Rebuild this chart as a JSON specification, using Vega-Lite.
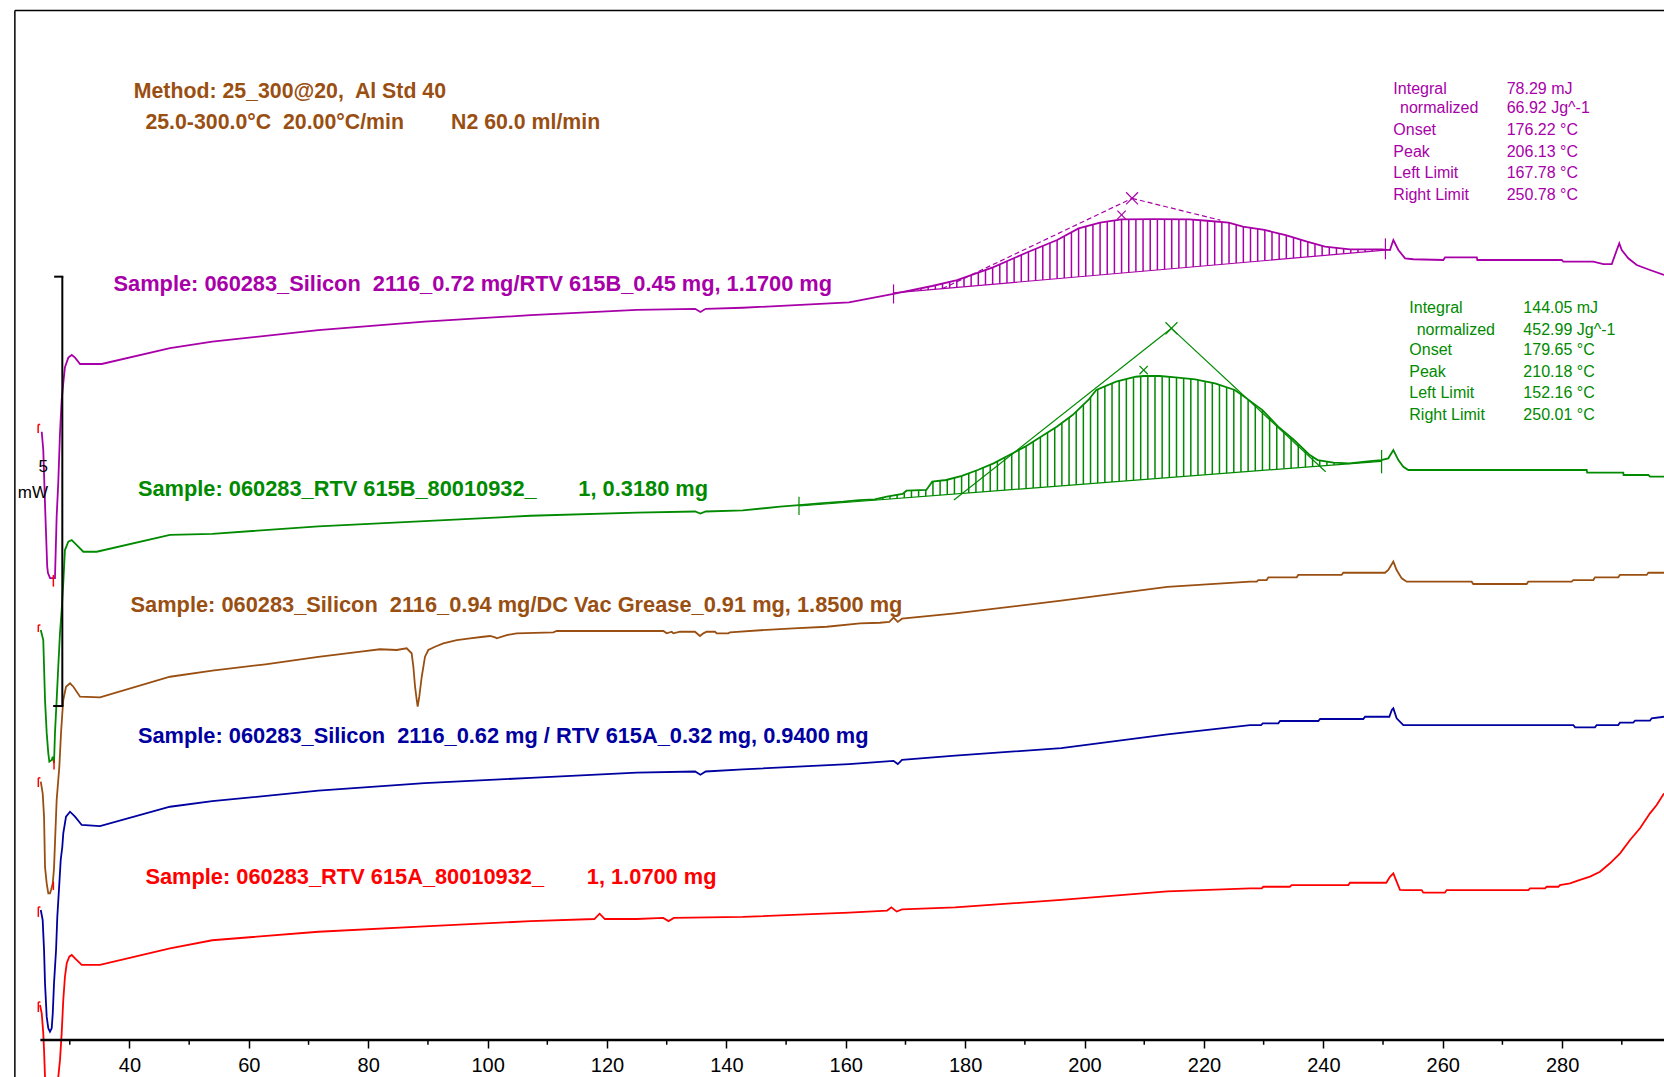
{
"$schema": "https://vega.github.io/schema/vega-lite/v6.json",
"width": 1664, "height": 1040,
"autosize": {"type": "none"},
"padding": {"left": 0, "top": 0, "right": 0, "bottom": 37},
"background": "white",
"config": {"view": {"stroke": null}, "font": "Liberation Sans"},
"datasets": {
"traces": [
{"s":"P","T":25.30,"v":57.32},{"s":"P","T":25.56,"v":55.6},{"s":"P","T":25.88,"v":50.0},{"s":"P","T":26.22,"v":44.6},{"s":"P","T":26.35,"v":44.0},{"s":"P","T":26.70,"v":43.53},{"s":"P","T":27.52,"v":43.53},{"s":"P","T":27.80,"v":49.3},{"s":"P","T":28.07,"v":52.5},{"s":"P","T":28.36,"v":57.2},{"s":"P","T":28.64,"v":60.3},{"s":"P","T":28.91,"v":61.9},{"s":"P","T":29.19,"v":63.4},{"s":"P","T":29.76,"v":64.3},{"s":"P","T":30.33,"v":64.55},{"s":"P","T":30.88,"v":64.3},{"s":"P","T":31.72,"v":63.7},{"s":"P","T":35.34,"v":63.7},{"s":"P","T":46.79,"v":65.2},{"s":"P","T":53.87,"v":65.8},{"s":"P","T":71.64,"v":66.9},{"s":"P","T":89.42,"v":67.7},{"s":"P","T":107.2,"v":68.3},{"s":"P","T":124.98,"v":68.8},{"s":"P","T":134.76,"v":68.9},{"s":"P","T":135.64,"v":68.6},{"s":"P","T":136.53,"v":68.9},{"s":"P","T":142.76,"v":69.0},{"s":"P","T":160.53,"v":69.5},{"s":"P","T":168.0,"v":70.3},{"s":"P","T":174.47,"v":71.05},{"s":"P","T":178.65,"v":71.61},{"s":"P","T":184.64,"v":72.81},{"s":"P","T":190.63,"v":74.28},{"s":"P","T":195.41,"v":75.38},{"s":"P","T":199.0,"v":76.48},{"s":"P","T":202.6,"v":77.02},{"s":"P","T":206.19,"v":77.33},{"s":"P","T":211.57,"v":77.36},{"s":"P","T":217.55,"v":77.33},{"s":"P","T":220.53,"v":77.2},{"s":"P","T":224.12,"v":77.02},{"s":"P","T":226.52,"v":76.64},{"s":"P","T":230.12,"v":76.33},{"s":"P","T":233.69,"v":75.85},{"s":"P","T":237.28,"v":75.23},{"s":"P","T":240.28,"v":74.76},{"s":"P","T":244.46,"v":74.5},{"s":"P","T":249.85,"v":74.5},{"s":"P","T":251.16,"v":74.44},{"s":"P","T":251.73,"v":75.38},{"s":"P","T":252.57,"v":74.44},{"s":"P","T":253.69,"v":73.66},{"s":"P","T":255.08,"v":73.57},{"s":"P","T":260.11,"v":73.5},{"s":"P","T":260.39,"v":73.75},{"s":"P","T":265.71,"v":73.75},{"s":"P","T":265.8,"v":73.5},{"s":"P","T":279.93,"v":73.5},{"s":"P","T":280.2,"v":73.34},{"s":"P","T":285.23,"v":73.34},{"s":"P","T":286.92,"v":73.12},{"s":"P","T":288.32,"v":73.12},{"s":"P","T":289.16,"v":74.44},{"s":"P","T":289.58,"v":75.07},{"s":"P","T":289.99,"v":74.44},{"s":"P","T":291.09,"v":73.66},{"s":"P","T":292.5,"v":73.03},{"s":"P","T":294.72,"v":72.56},{"s":"P","T":297.07,"v":72.09},
{"s":"G","T":25.14,"v":38.63},{"s":"G","T":25.56,"v":37.69},{"s":"G","T":25.69,"v":35.18},{"s":"G","T":25.85,"v":32.04},{"s":"G","T":26.13,"v":28.96},{"s":"G","T":26.40,"v":27.01},{"s":"G","T":26.58,"v":26.22},{"s":"G","T":26.97,"v":26.38},{"s":"G","T":27.15,"v":26.7},{"s":"G","T":27.36,"v":26.1},{"s":"G","T":27.52,"v":28.93},{"s":"G","T":27.80,"v":32.04},{"s":"G","T":28.07,"v":35.15},{"s":"G","T":28.36,"v":38.35},{"s":"G","T":28.64,"v":40.52},{"s":"G","T":28.91,"v":43.06},{"s":"G","T":29.19,"v":46.17},{"s":"G","T":29.76,"v":46.95},{"s":"G","T":30.33,"v":47.11},{"s":"G","T":30.88,"v":46.8},{"s":"G","T":32.27,"v":46.01},{"s":"G","T":34.51,"v":46.01},{"s":"G","T":46.79,"v":47.59},{"s":"G","T":53.87,"v":47.7},{"s":"G","T":71.64,"v":48.4},{"s":"G","T":89.42,"v":48.9},{"s":"G","T":107.2,"v":49.4},{"s":"G","T":124.98,"v":49.7},{"s":"G","T":134.76,"v":49.8},{"s":"G","T":135.64,"v":49.6},{"s":"G","T":136.53,"v":49.8},{"s":"G","T":142.76,"v":49.9},{"s":"G","T":148.98,"v":50.26},{"s":"G","T":152.16,"v":50.41},{"s":"G","T":155.61,"v":50.57},{"s":"G","T":159.57,"v":50.73},{"s":"G","T":162.22,"v":50.88},{"s":"G","T":164.87,"v":50.95},{"s":"G","T":166.86,"v":51.2},{"s":"G","T":169.51,"v":51.45},{"s":"G","T":170.17,"v":51.76},{"s":"G","T":173.49,"v":51.83},{"s":"G","T":174.49,"v":52.61},{"s":"G","T":176.8,"v":52.77},{"s":"G","T":179.45,"v":53.15},{"s":"G","T":182.1,"v":53.71},{"s":"G","T":184.75,"v":54.34},{"s":"G","T":187.4,"v":55.12},{"s":"G","T":190.04,"v":55.91},{"s":"G","T":192.69,"v":56.85},{"s":"G","T":195.34,"v":57.79},{"s":"G","T":197.99,"v":58.89},{"s":"G","T":200.64,"v":60.31},{"s":"G","T":201.97,"v":61.25},{"s":"G","T":205.28,"v":62.03},{"s":"G","T":208.59,"v":62.5},{"s":"G","T":209.92,"v":62.57},{"s":"G","T":212.57,"v":62.57},{"s":"G","T":215.22,"v":62.44},{"s":"G","T":218.52,"v":62.25},{"s":"G","T":221.85,"v":61.88},{"s":"G","T":225.16,"v":61.25},{"s":"G","T":227.15,"v":60.46},{"s":"G","T":229.8,"v":59.36},{"s":"G","T":232.44,"v":57.79},{"s":"G","T":235.09,"v":56.54},{"s":"G","T":237.74,"v":55.12},{"s":"G","T":239.06,"v":54.65},{"s":"G","T":241.71,"v":54.4},{"s":"G","T":244.36,"v":54.34},{"s":"G","T":247.02,"v":54.5},{"s":"G","T":249.67,"v":54.65},{"s":"G","T":250.88,"v":54.81},{"s":"G","T":251.73,"v":55.59},{"s":"G","T":252.57,"v":54.65},{"s":"G","T":253.40,"v":54.02},{"s":"G","T":254.24,"v":53.71},{"s":"G","T":284.12,"v":53.71},{"s":"G","T":284.2,"v":53.46},{"s":"G","T":290.25,"v":53.46},{"s":"G","T":290.3,"v":53.24},{"s":"G","T":294.45,"v":53.24},{"s":"G","T":294.72,"v":53.08},{"s":"G","T":297.07,"v":53.08},
{"s":"B","T":25.14,"v":24.34},{"s":"B","T":25.46,"v":23.25},{"s":"B","T":25.69,"v":21.04},{"s":"B","T":25.85,"v":16.31},{"s":"B","T":26.13,"v":14.76},{"s":"B","T":26.40,"v":13.82},{"s":"B","T":26.68,"v":13.82},{"s":"B","T":26.86,"v":14.13},{"s":"B","T":27.15,"v":14.76},{"s":"B","T":27.36,"v":16.2},{"s":"B","T":27.80,"v":22.61},{"s":"B","T":28.25,"v":25.75},{"s":"B","T":28.53,"v":28.9},{"s":"B","T":28.75,"v":30.78},{"s":"B","T":28.91,"v":32.04},{"s":"B","T":29.37,"v":33.29},{"s":"B","T":30.04,"v":33.61},{"s":"B","T":30.60,"v":33.29},{"s":"B","T":31.72,"v":32.35},{"s":"B","T":35.06,"v":32.29},{"s":"B","T":46.79,"v":34.23},{"s":"B","T":53.87,"v":34.8},{"s":"B","T":62.76,"v":35.4},{"s":"B","T":71.64,"v":36.1},{"s":"B","T":78.76,"v":36.6},{"s":"B","T":81.97,"v":36.82},{"s":"B","T":84.76,"v":36.75},{"s":"B","T":86.44,"v":36.91},{"s":"B","T":87.27,"v":36.44},{"s":"B","T":87.56,"v":35.17},{"s":"B","T":87.84,"v":33.29},{"s":"B","T":88.12,"v":32.04},{"s":"B","T":88.28,"v":31.41},{"s":"B","T":88.55,"v":32.35},{"s":"B","T":88.96,"v":34.23},{"s":"B","T":89.51,"v":36.12},{"s":"B","T":90.06,"v":36.75},{"s":"B","T":91.18,"v":37.06},{"s":"B","T":92.57,"v":37.38},{"s":"B","T":94.83,"v":37.69},{"s":"B","T":97.05,"v":37.85},{"s":"B","T":99.27,"v":38.0},{"s":"B","T":100.41,"v":38.07},{"s":"B","T":101.24,"v":37.95},{"s":"B","T":101.51,"v":37.85},{"s":"B","T":103.2,"v":38.16},{"s":"B","T":104.87,"v":38.32},{"s":"B","T":111.0,"v":38.42},{"s":"B","T":111.57,"v":38.54},{"s":"B","T":129.44,"v":38.54},{"s":"B","T":130.01,"v":38.32},{"s":"B","T":130.84,"v":38.47},{"s":"B","T":131.11,"v":38.32},{"s":"B","T":132.23,"v":38.47},{"s":"B","T":134.74,"v":38.47},{"s":"B","T":135.57,"v":38.07},{"s":"B","T":136.14,"v":38.32},{"s":"B","T":136.69,"v":38.47},{"s":"B","T":138.10,"v":38.47},{"s":"B","T":138.38,"v":38.32},{"s":"B","T":140.32,"v":38.32},{"s":"B","T":140.6,"v":38.42},{"s":"B","T":146.75,"v":38.65},{"s":"B","T":151.22,"v":38.79},{"s":"B","T":156.80,"v":38.94},{"s":"B","T":162.38,"v":39.26},{"s":"B","T":165.72,"v":39.32},{"s":"B","T":167.29,"v":39.4},{"s":"B","T":168.0,"v":39.8},{"s":"B","T":168.71,"v":39.4},{"s":"B","T":169.42,"v":39.7},{"s":"B","T":178.31,"v":40.2},{"s":"B","T":196.09,"v":41.4},{"s":"B","T":213.87,"v":42.7},{"s":"B","T":227.72,"v":43.19},{"s":"B","T":228.84,"v":43.19},{"s":"B","T":229.10,"v":43.34},{"s":"B","T":230.5,"v":43.34},{"s":"B","T":230.79,"v":43.6},{"s":"B","T":235.54,"v":43.6},{"s":"B","T":235.80,"v":43.82},{"s":"B","T":243.07,"v":43.82},{"s":"B","T":243.34,"v":44.03},{"s":"B","T":250.33,"v":44.03},{"s":"B","T":250.88,"v":44.29},{"s":"B","T":251.73,"v":45.08},{"s":"B","T":252.28,"v":44.29},{"s":"B","T":253.13,"v":43.5},{"s":"B","T":253.97,"v":43.19},{"s":"B","T":264.85,"v":43.19},{"s":"B","T":265.12,"v":42.97},{"s":"B","T":274.06,"v":42.97},{"s":"B","T":274.33,"v":43.19},{"s":"B","T":281.6,"v":43.19},{"s":"B","T":281.88,"v":43.34},{"s":"B","T":285.23,"v":43.34},{"s":"B","T":285.51,"v":43.6},{"s":"B","T":289.4,"v":43.6},{"s":"B","T":289.69,"v":43.82},{"s":"B","T":294.17,"v":43.82},{"s":"B","T":294.45,"v":44.03},{"s":"B","T":297.07,"v":44.03},
{"s":"U","T":25.14,"v":12.25},{"s":"U","T":25.46,"v":11.3},{"s":"U","T":25.56,"v":10.05},{"s":"U","T":25.69,"v":8.48},{"s":"U","T":25.85,"v":5.34},{"s":"U","T":26.13,"v":2.2},{"s":"U","T":26.40,"v":1.1},{"s":"U","T":26.68,"v":0.78},{"s":"U","T":26.97,"v":1.1},{"s":"U","T":27.15,"v":2.51},{"s":"U","T":27.36,"v":5.34},{"s":"U","T":27.70,"v":8.48},{"s":"U","T":27.91,"v":11.62},{"s":"U","T":28.25,"v":14.76},{"s":"U","T":28.48,"v":16.96},{"s":"U","T":28.75,"v":18.21},{"s":"U","T":28.91,"v":19.47},{"s":"U","T":29.37,"v":21.04},{"s":"U","T":30.04,"v":21.51},{"s":"U","T":30.88,"v":21.04},{"s":"U","T":32.0,"v":20.26},{"s":"U","T":35.06,"v":20.16},{"s":"U","T":46.79,"v":21.98},{"s":"U","T":53.87,"v":22.5},{"s":"U","T":71.64,"v":23.5},{"s":"U","T":89.42,"v":24.2},{"s":"U","T":107.2,"v":24.7},{"s":"U","T":124.98,"v":25.2},{"s":"U","T":134.76,"v":25.3},{"s":"U","T":135.64,"v":25.0},{"s":"U","T":136.53,"v":25.3},{"s":"U","T":142.76,"v":25.5},{"s":"U","T":160.53,"v":26.0},{"s":"U","T":168.0,"v":26.3},{"s":"U","T":168.71,"v":26.0},{"s":"U","T":169.42,"v":26.4},{"s":"U","T":178.31,"v":26.8},{"s":"U","T":196.09,"v":27.5},{"s":"U","T":213.87,"v":28.8},{"s":"U","T":227.72,"v":29.68},{"s":"U","T":229.57,"v":29.68},{"s":"U","T":229.85,"v":29.84},{"s":"U","T":232.46,"v":29.84},{"s":"U","T":232.75,"v":30.06},{"s":"U","T":239.16,"v":30.06},{"s":"U","T":239.45,"v":30.25},{"s":"U","T":246.7,"v":30.25},{"s":"U","T":246.99,"v":30.46},{"s":"U","T":251.06,"v":30.46},{"s":"U","T":251.47,"v":31.09},{"s":"U","T":251.73,"v":31.25},{"s":"U","T":252.28,"v":30.31},{"s":"U","T":253.40,"v":29.68},{"s":"U","T":281.88,"v":29.68},{"s":"U","T":282.17,"v":29.46},{"s":"U","T":285.51,"v":29.46},{"s":"U","T":285.79,"v":29.68},{"s":"U","T":289.40,"v":29.68},{"s":"U","T":289.69,"v":29.9},{"s":"U","T":291.91,"v":29.9},{"s":"U","T":292.23,"v":30.09},{"s":"U","T":294.72,"v":30.09},{"s":"U","T":295.0,"v":30.31},{"s":"U","T":297.07,"v":30.46},
{"s":"R","T":25.01,"v":3.3},{"s":"R","T":25.30,"v":2.51},{"s":"R","T":25.56,"v":0.62},{"s":"R","T":25.69,"v":-0.94},{"s":"R","T":25.85,"v":-3.5},{"s":"R","T":26.04,"v":-6.0},{"s":"R","T":26.49,"v":-7.0},{"s":"R","T":27.2,"v":-7.0},{"s":"R","T":27.64,"v":-6.0},{"s":"R","T":28.07,"v":-3.5},{"s":"R","T":28.36,"v":-1.9},{"s":"R","T":28.64,"v":0.62},{"s":"R","T":28.91,"v":3.77},{"s":"R","T":29.19,"v":5.96},{"s":"R","T":29.49,"v":7.23},{"s":"R","T":29.92,"v":7.85},{"s":"R","T":30.33,"v":8.01},{"s":"R","T":30.88,"v":7.7},{"s":"R","T":32.0,"v":7.07},{"s":"R","T":35.06,"v":7.07},{"s":"R","T":46.79,"v":8.64},{"s":"R","T":53.87,"v":9.4},{"s":"R","T":71.64,"v":10.2},{"s":"R","T":89.42,"v":10.7},{"s":"R","T":107.2,"v":11.2},{"s":"R","T":117.87,"v":11.4},{"s":"R","T":118.76,"v":11.9},{"s":"R","T":119.64,"v":11.4},{"s":"R","T":124.98,"v":11.4},{"s":"R","T":129.42,"v":11.5},{"s":"R","T":130.31,"v":11.2},{"s":"R","T":131.2,"v":11.5},{"s":"R","T":142.76,"v":11.6},{"s":"R","T":160.53,"v":12.0},{"s":"R","T":166.93,"v":12.2},{"s":"R","T":167.64,"v":12.5},{"s":"R","T":168.53,"v":12.1},{"s":"R","T":169.42,"v":12.3},{"s":"R","T":178.31,"v":12.5},{"s":"R","T":196.09,"v":13.2},{"s":"R","T":213.87,"v":14.0},{"s":"R","T":227.72,"v":14.29},{"s":"R","T":229.68,"v":14.29},{"s":"R","T":229.94,"v":14.44},{"s":"R","T":234.38,"v":14.44},{"s":"R","T":234.70,"v":14.6},{"s":"R","T":244.20,"v":14.6},{"s":"R","T":244.46,"v":14.82},{"s":"R","T":250.54,"v":14.82},{"s":"R","T":251.16,"v":15.38},{"s":"R","T":251.73,"v":15.7},{"s":"R","T":252.28,"v":14.92},{"s":"R","T":252.84,"v":14.14},{"s":"R","T":253.69,"v":14.13},{"s":"R","T":256.48,"v":14.13},{"s":"R","T":256.75,"v":13.88},{"s":"R","T":260.37,"v":13.88},{"s":"R","T":260.66,"v":14.13},{"s":"R","T":274.35,"v":14.13},{"s":"R","T":274.63,"v":14.29},{"s":"R","T":277.14,"v":14.29},{"s":"R","T":277.42,"v":14.44},{"s":"R","T":279.38,"v":14.44},{"s":"R","T":279.64,"v":14.6},{"s":"R","T":281.32,"v":14.76},{"s":"R","T":283.0,"v":15.08},{"s":"R","T":284.68,"v":15.39},{"s":"R","T":286.35,"v":15.86},{"s":"R","T":288.02,"v":16.65},{"s":"R","T":289.71,"v":17.59},{"s":"R","T":291.38,"v":18.85},{"s":"R","T":293.05,"v":19.95},{"s":"R","T":294.72,"v":21.36},{"s":"R","T":295.84,"v":22.14},{"s":"R","T":297.07,"v":23.24}
],
"hatch": [
{"s":"P","T":169.0,"v":70.45,"v2":70.50},{"s":"P","T":170.2,"v":70.51,"v2":70.62},{"s":"P","T":171.4,"v":70.57,"v2":70.74},{"s":"P","T":172.6,"v":70.62,"v2":70.86},{"s":"P","T":173.8,"v":70.68,"v2":70.98},{"s":"P","T":175.0,"v":70.74,"v2":71.12},{"s":"P","T":176.2,"v":70.80,"v2":71.28},{"s":"P","T":177.4,"v":70.86,"v2":71.44},{"s":"P","T":178.6,"v":70.92,"v2":71.60},{"s":"P","T":179.8,"v":70.98,"v2":71.84},{"s":"P","T":181.0,"v":71.04,"v2":72.08},{"s":"P","T":182.2,"v":71.09,"v2":72.32},{"s":"P","T":183.4,"v":71.15,"v2":72.56},{"s":"P","T":184.6,"v":71.21,"v2":72.80},{"s":"P","T":185.8,"v":71.27,"v2":73.09},{"s":"P","T":187.0,"v":71.33,"v2":73.38},{"s":"P","T":188.2,"v":71.39,"v2":73.68},{"s":"P","T":189.4,"v":71.45,"v2":73.97},{"s":"P","T":190.6,"v":71.51,"v2":74.27},{"s":"P","T":191.8,"v":71.56,"v2":74.55},{"s":"P","T":193.0,"v":71.62,"v2":74.82},{"s":"P","T":194.2,"v":71.68,"v2":75.10},{"s":"P","T":195.4,"v":71.74,"v2":75.38},{"s":"P","T":196.6,"v":71.80,"v2":75.74},{"s":"P","T":197.8,"v":71.86,"v2":76.11},{"s":"P","T":199.0,"v":71.92,"v2":76.48},{"s":"P","T":200.2,"v":71.97,"v2":76.66},{"s":"P","T":201.4,"v":72.03,"v2":76.84},{"s":"P","T":202.6,"v":72.09,"v2":77.02},{"s":"P","T":203.8,"v":72.15,"v2":77.12},{"s":"P","T":205.0,"v":72.21,"v2":77.22},{"s":"P","T":206.2,"v":72.27,"v2":77.33},{"s":"P","T":207.4,"v":72.33,"v2":77.34},{"s":"P","T":208.6,"v":72.39,"v2":77.34},{"s":"P","T":209.8,"v":72.44,"v2":77.35},{"s":"P","T":211.0,"v":72.50,"v2":77.36},{"s":"P","T":212.2,"v":72.56,"v2":77.36},{"s":"P","T":213.4,"v":72.62,"v2":77.35},{"s":"P","T":214.6,"v":72.68,"v2":77.35},{"s":"P","T":215.8,"v":72.74,"v2":77.34},{"s":"P","T":217.0,"v":72.80,"v2":77.33},{"s":"P","T":218.2,"v":72.85,"v2":77.30},{"s":"P","T":219.4,"v":72.91,"v2":77.25},{"s":"P","T":220.6,"v":72.97,"v2":77.20},{"s":"P","T":221.8,"v":73.03,"v2":77.14},{"s":"P","T":223.0,"v":73.09,"v2":77.08},{"s":"P","T":224.2,"v":73.15,"v2":77.01},{"s":"P","T":225.4,"v":73.21,"v2":76.82},{"s":"P","T":226.6,"v":73.27,"v2":76.63},{"s":"P","T":227.8,"v":73.32,"v2":76.52},{"s":"P","T":229.0,"v":73.38,"v2":76.42},{"s":"P","T":230.2,"v":73.44,"v2":76.32},{"s":"P","T":231.4,"v":73.50,"v2":76.15},{"s":"P","T":232.6,"v":73.56,"v2":75.99},{"s":"P","T":233.8,"v":73.62,"v2":75.83},{"s":"P","T":235.0,"v":73.68,"v2":75.63},{"s":"P","T":236.2,"v":73.74,"v2":75.42},{"s":"P","T":237.4,"v":73.79,"v2":75.21},{"s":"P","T":238.6,"v":73.85,"v2":75.02},{"s":"P","T":239.8,"v":73.91,"v2":74.83},{"s":"P","T":241.0,"v":73.97,"v2":74.72},{"s":"P","T":242.2,"v":74.03,"v2":74.64},{"s":"P","T":243.4,"v":74.09,"v2":74.57},{"s":"P","T":244.6,"v":74.15,"v2":74.50},{"s":"P","T":245.8,"v":74.20,"v2":74.50},{"s":"P","T":247.0,"v":74.26,"v2":74.50},{"s":"P","T":248.2,"v":74.32,"v2":74.50},{"s":"P","T":249.4,"v":74.38,"v2":74.50},
{"s":"G","T":165.0,"v":50.87,"v2":50.97},{"s":"G","T":166.2,"v":50.93,"v2":51.12},{"s":"G","T":167.4,"v":50.98,"v2":51.25},{"s":"G","T":168.6,"v":51.03,"v2":51.36},{"s":"G","T":169.8,"v":51.08,"v2":51.59},{"s":"G","T":171.0,"v":51.13,"v2":51.78},{"s":"G","T":172.2,"v":51.19,"v2":51.80},{"s":"G","T":173.4,"v":51.24,"v2":51.83},{"s":"G","T":174.6,"v":51.29,"v2":52.62},{"s":"G","T":175.8,"v":51.34,"v2":52.70},{"s":"G","T":177.0,"v":51.39,"v2":52.80},{"s":"G","T":178.2,"v":51.44,"v2":52.97},{"s":"G","T":179.4,"v":51.50,"v2":53.14},{"s":"G","T":180.6,"v":51.55,"v2":53.39},{"s":"G","T":181.8,"v":51.60,"v2":53.65},{"s":"G","T":183.0,"v":51.65,"v2":53.92},{"s":"G","T":184.2,"v":51.70,"v2":54.21},{"s":"G","T":185.4,"v":51.76,"v2":54.53},{"s":"G","T":186.6,"v":51.81,"v2":54.88},{"s":"G","T":187.8,"v":51.86,"v2":55.24},{"s":"G","T":189.0,"v":51.91,"v2":55.60},{"s":"G","T":190.2,"v":51.96,"v2":55.97},{"s":"G","T":191.4,"v":52.01,"v2":56.39},{"s":"G","T":192.6,"v":52.07,"v2":56.82},{"s":"G","T":193.8,"v":52.12,"v2":57.24},{"s":"G","T":195.0,"v":52.17,"v2":57.67},{"s":"G","T":196.2,"v":52.22,"v2":58.15},{"s":"G","T":197.4,"v":52.27,"v2":58.65},{"s":"G","T":198.6,"v":52.33,"v2":59.22},{"s":"G","T":199.8,"v":52.38,"v2":59.86},{"s":"G","T":201.0,"v":52.43,"v2":60.56},{"s":"G","T":202.2,"v":52.48,"v2":61.30},{"s":"G","T":203.4,"v":52.53,"v2":61.59},{"s":"G","T":204.6,"v":52.58,"v2":61.87},{"s":"G","T":205.8,"v":52.64,"v2":62.10},{"s":"G","T":207.0,"v":52.69,"v2":62.27},{"s":"G","T":208.2,"v":52.74,"v2":62.45},{"s":"G","T":209.4,"v":52.79,"v2":62.54},{"s":"G","T":210.6,"v":52.84,"v2":62.57},{"s":"G","T":211.8,"v":52.90,"v2":62.57},{"s":"G","T":213.0,"v":52.95,"v2":62.55},{"s":"G","T":214.2,"v":53.00,"v2":62.49},{"s":"G","T":215.4,"v":53.05,"v2":62.43},{"s":"G","T":216.6,"v":53.10,"v2":62.36},{"s":"G","T":217.8,"v":53.15,"v2":62.29},{"s":"G","T":219.0,"v":53.21,"v2":62.20},{"s":"G","T":220.2,"v":53.26,"v2":62.06},{"s":"G","T":221.4,"v":53.31,"v2":61.93},{"s":"G","T":222.6,"v":53.36,"v2":61.74},{"s":"G","T":223.8,"v":53.41,"v2":61.51},{"s":"G","T":225.0,"v":53.47,"v2":61.28},{"s":"G","T":226.2,"v":53.52,"v2":60.84},{"s":"G","T":227.4,"v":53.57,"v2":60.36},{"s":"G","T":228.6,"v":53.62,"v2":59.86},{"s":"G","T":229.8,"v":53.67,"v2":59.36},{"s":"G","T":231.0,"v":53.72,"v2":58.65},{"s":"G","T":232.2,"v":53.78,"v2":57.93},{"s":"G","T":233.4,"v":53.83,"v2":57.34},{"s":"G","T":234.6,"v":53.88,"v2":56.77},{"s":"G","T":235.8,"v":53.93,"v2":56.16},{"s":"G","T":237.0,"v":53.98,"v2":55.52},{"s":"G","T":238.2,"v":54.04,"v2":54.96},{"s":"G","T":239.4,"v":54.09,"v2":54.62},{"s":"G","T":240.6,"v":54.14,"v2":54.51},{"s":"G","T":241.8,"v":54.19,"v2":54.40},{"s":"G","T":243.0,"v":54.24,"v2":54.37},{"s":"G","T":244.2,"v":54.29,"v2":54.34},{"s":"G","T":245.4,"v":54.35,"v2":54.40},{"s":"G","T":246.6,"v":54.40,"v2":54.47},{"s":"G","T":247.8,"v":54.45,"v2":54.54},{"s":"G","T":249.0,"v":54.50,"v2":54.61}
],
"segs": [
{"s":"P","k":"base","T":168.0,"T2":250.8,"v":70.4,"v2":74.45},
{"s":"G","k":"base","T":152.16,"T2":249.67,"v":50.32,"v2":54.53},
{"s":"P","k":"tanP","T":176.18,"T2":207.96,"v":70.8,"v2":79.31},
{"s":"P","k":"tanP","T":207.96,"T2":222.76,"v":79.31,"v2":77.25},
{"s":"G","k":"tan","T":178.12,"T2":214.56,"v":50.88,"v2":67.06},
{"s":"G","k":"tan","T":214.56,"T2":240.39,"v":67.06,"v2":53.55},
{"s":"P","k":"lim","T":168.0,"T2":168.0,"v":71.2,"v2":69.4},
{"s":"P","k":"lim","T":250.4,"T2":250.4,"v":75.54,"v2":73.57},
{"s":"G","k":"lim","T":152.16,"T2":152.16,"v":51.2,"v2":49.47},
{"s":"G","k":"lim","T":249.76,"T2":249.76,"v":55.6,"v2":53.4},
{"s":"P","k":"lim","T":206.96,"T2":208.96,"v":78.74,"v2":79.88},
{"s":"P","k":"lim","T":206.96,"T2":208.96,"v":79.88,"v2":78.74},
{"s":"P","k":"lim","T":205.5,"T2":206.9,"v":77.35,"v2":78.15},
{"s":"P","k":"lim","T":205.5,"T2":206.9,"v":78.15,"v2":77.35},
{"s":"G","k":"lim","T":213.56,"T2":215.56,"v":66.49,"v2":67.63},
{"s":"G","k":"lim","T":213.56,"T2":215.56,"v":67.63,"v2":66.49},
{"s":"G","k":"lim","T":209.2,"T2":210.6,"v":62.73,"v2":63.53},
{"s":"G","k":"lim","T":209.2,"T2":210.6,"v":63.53,"v2":62.73},
{"s":"R","k":"mark","T":24.7,"T2":24.7,"v":58.0,"v2":57.2},
{"s":"R","k":"mark","T":24.7,"T2":25.05,"v":58.0,"v2":58.0},
{"s":"R","k":"mark","T":24.73,"T2":24.73,"v":39.1,"v2":38.44},
{"s":"R","k":"mark","T":24.73,"T2":25.08,"v":39.1,"v2":39.1},
{"s":"R","k":"mark","T":24.73,"T2":24.73,"v":24.7,"v2":23.84},
{"s":"R","k":"mark","T":24.73,"T2":25.08,"v":24.7,"v2":24.7},
{"s":"R","k":"mark","T":24.73,"T2":24.73,"v":12.53,"v2":11.6},
{"s":"R","k":"mark","T":24.73,"T2":25.08,"v":12.53,"v2":12.53},
{"s":"R","k":"mark","T":24.73,"T2":24.73,"v":3.58,"v2":2.64},
{"s":"R","k":"mark","T":24.73,"T2":25.08,"v":3.58,"v2":3.58},
{"s":"R","k":"mark","T":27.25,"T2":27.25,"v":43.82,"v2":42.72},
{"s":"R","k":"mark","T":27.36,"T2":27.36,"v":26.4,"v2":25.5},
{"s":"R","k":"mark","T":27.25,"T2":27.25,"v":14.92,"v2":14.13},
{"s":"K","k":"frame","T":20.8,"T2":297.07,"v":97.0,"v2":97.0},
{"s":"K","k":"frame","T":20.8,"T2":20.8,"v":97.0,"v2":-3.6},
{"s":"K","k":"bar","T":28.75,"T2":28.75,"v":71.93,"v2":31.47},
{"s":"K","k":"bar","T":27.38,"T2":28.92,"v":71.93,"v2":71.93},
{"s":"K","k":"bar","T":27.21,"T2":28.92,"v":31.47,"v2":31.47},
{"s":"K","k":"axis","T":25.07,"T2":297.07,"v":0,"v2":0},
{"s":"K","k":"minor","T":30,"T2":30,"v":0,"v2":-0.45},{"s":"K","k":"minor","T":50,"T2":50,"v":0,"v2":-0.45},{"s":"K","k":"minor","T":70,"T2":70,"v":0,"v2":-0.45},{"s":"K","k":"minor","T":90,"T2":90,"v":0,"v2":-0.45},{"s":"K","k":"minor","T":110,"T2":110,"v":0,"v2":-0.45},{"s":"K","k":"minor","T":130,"T2":130,"v":0,"v2":-0.45},{"s":"K","k":"minor","T":150,"T2":150,"v":0,"v2":-0.45},{"s":"K","k":"minor","T":170,"T2":170,"v":0,"v2":-0.45},{"s":"K","k":"minor","T":190,"T2":190,"v":0,"v2":-0.45},{"s":"K","k":"minor","T":210,"T2":210,"v":0,"v2":-0.45},{"s":"K","k":"minor","T":230,"T2":230,"v":0,"v2":-0.45},{"s":"K","k":"minor","T":250,"T2":250,"v":0,"v2":-0.45},{"s":"K","k":"minor","T":270,"T2":270,"v":0,"v2":-0.45},{"s":"K","k":"minor","T":290,"T2":290,"v":0,"v2":-0.45}
],
"samples": [
{"s":"P","T":37.33,"v":71.2,"text":"Sample: 060283_Silicon\u00a0 2116_0.72 mg/RTV 615B_0.45 mg, 1.1700 mg"},
{"s":"G","T":41.42,"v":51.9,"text":"Sample: 060283_RTV 615B_80010932_"},
{"s":"G","T":115.2,"v":51.9,"text":"1, 0.3180 mg"},
{"s":"B","T":40.18,"v":41.0,"text":"Sample: 060283_Silicon\u00a0 2116_0.94 mg/DC Vac Grease_0.91 mg, 1.8500 mg"},
{"s":"U","T":41.42,"v":28.6,"text":"Sample: 060283_Silicon\u00a0 2116_0.62 mg / RTV 615A_0.32 mg, 0.9400 mg"},
{"s":"R","T":42.67,"v":15.4,"text":"Sample: 060283_RTV 615A_80010932_"},
{"s":"R","T":116.62,"v":15.4,"text":"1, 1.0700 mg"}
],
"method": [
{"s":"B","T":40.71,"v":89.3,"text":"Method: 25_300@20,\u00a0 Al Std 40"},
{"s":"B","T":42.67,"v":86.4,"text":"25.0-300.0°C\u00a0 20.00°C/min"},
{"s":"B","T":93.87,"v":86.4,"text":"N2 60.0 ml/min"}
],
"annot": [
{"s":"P","T":251.73,"v":89.58,"text":"Integral"},{"s":"P","T":252.85,"v":87.79,"text":"normalized"},{"s":"P","T":251.73,"v":85.75,"text":"Onset"},{"s":"P","T":251.73,"v":83.71,"text":"Peak"},{"s":"P","T":251.73,"v":81.67,"text":"Left Limit"},{"s":"P","T":251.73,"v":79.62,"text":"Right Limit"},
{"s":"P","T":270.72,"v":89.58,"text":"78.29 mJ"},{"s":"P","T":270.72,"v":87.79,"text":"66.92 Jg^-1"},{"s":"P","T":270.72,"v":85.75,"text":"176.22 °C"},{"s":"P","T":270.72,"v":83.71,"text":"206.13 °C"},{"s":"P","T":270.72,"v":81.67,"text":"167.78 °C"},{"s":"P","T":270.72,"v":79.62,"text":"250.78 °C"},
{"s":"G","T":254.4,"v":68.95,"text":"Integral"},{"s":"G","T":255.64,"v":66.9,"text":"normalized"},{"s":"G","T":254.4,"v":65.02,"text":"Onset"},{"s":"G","T":254.4,"v":62.97,"text":"Peak"},{"s":"G","T":254.4,"v":60.94,"text":"Left Limit"},{"s":"G","T":254.4,"v":58.89,"text":"Right Limit"},
{"s":"G","T":273.51,"v":68.95,"text":"144.05 mJ"},{"s":"G","T":273.51,"v":66.9,"text":"452.99 Jg^-1"},{"s":"G","T":273.51,"v":65.02,"text":"179.65 °C"},{"s":"G","T":273.51,"v":62.97,"text":"210.18 °C"},{"s":"G","T":273.51,"v":60.94,"text":"152.16 °C"},{"s":"G","T":273.51,"v":58.89,"text":"250.01 °C"}
],
"unit": [
{"s":"K","T":25.55,"v":53.95,"text":"5"},
{"s":"K","T":23.82,"v":51.5,"text":"mW"}
]
},
"encoding": {
"x": {"field":"T","type":"quantitative","scale":{"domain":[18.31,297.07],"nice":false,"zero":false},
"axis":{"title":null,"values":[40,60,80,100,120,140,160,180,200,220,240,260,280],"domain":false,"grid":false,"tickSize":8,"tickColor":"#000000","tickWidth":1.5,"labelFont":"Liberation Sans","labelFontSize":20,"labelColor":"#000000","labelPadding":7,"labelFlush":false,"labelOverlap":false}},
"y": {"field":"v","type":"quantitative","scale":{"domain":[0,98],"nice":false,"zero":false},"axis":null},
"color": {"field":"s","type":"nominal","scale":{"domain":["P","G","B","U","R","K"],"range":["#a800a8","#008a00","#9a4f12","#0000a0","#ff0000","#000000"]},"legend":null}
},
"layer": [
{"data":{"name":"hatch"},"mark":{"type":"rule","strokeWidth":1.5},"encoding":{"y2":{"field":"v2"}}},
{"data":{"name":"segs"},"transform":[{"filter":"datum.k === 'base' || datum.k === 'tan' || datum.k === 'lim'"}],"mark":{"type":"rule","strokeWidth":1.2},"encoding":{"x2":{"field":"T2"},"y2":{"field":"v2"}}},
{"data":{"name":"segs"},"transform":[{"filter":"datum.k === 'tanP'"}],"mark":{"type":"rule","strokeWidth":1.2,"strokeDash":[5,3]},"encoding":{"x2":{"field":"T2"},"y2":{"field":"v2"}}},
{"data":{"name":"traces"},"mark":{"type":"line","strokeWidth":1.8,"interpolate":"linear"}},
{"data":{"name":"segs"},"transform":[{"filter":"datum.k === 'mark' || datum.k === 'minor'"}],"mark":{"type":"rule","strokeWidth":1.5},"encoding":{"x2":{"field":"T2"},"y2":{"field":"v2"}}},
{"data":{"name":"segs"},"transform":[{"filter":"datum.k === 'frame'"}],"mark":{"type":"rule","strokeWidth":1.5},"encoding":{"x2":{"field":"T2"},"y2":{"field":"v2"}}},
{"data":{"name":"segs"},"transform":[{"filter":"datum.k === 'bar'"}],"mark":{"type":"rule","strokeWidth":2},"encoding":{"x2":{"field":"T2"},"y2":{"field":"v2"}}},
{"data":{"name":"segs"},"transform":[{"filter":"datum.k === 'axis'"}],"mark":{"type":"rule","strokeWidth":2.5},"encoding":{"x2":{"field":"T2"},"y2":{"field":"v2"}}},
{"data":{"name":"samples"},"mark":{"type":"text","align":"left","baseline":"middle","font":"Liberation Sans","fontSize":21.8,"fontWeight":"bold"},"encoding":{"text":{"field":"text"}}},
{"data":{"name":"method"},"mark":{"type":"text","align":"left","baseline":"middle","font":"Liberation Sans","fontSize":21.3,"fontWeight":"bold"},"encoding":{"text":{"field":"text"}}},
{"data":{"name":"annot"},"mark":{"type":"text","align":"left","baseline":"middle","font":"Liberation Sans","fontSize":16},"encoding":{"text":{"field":"text"}}},
{"data":{"name":"unit"},"mark":{"type":"text","align":"center","baseline":"middle","font":"Liberation Sans","fontSize":17},"encoding":{"text":{"field":"text"}}}
]
}
